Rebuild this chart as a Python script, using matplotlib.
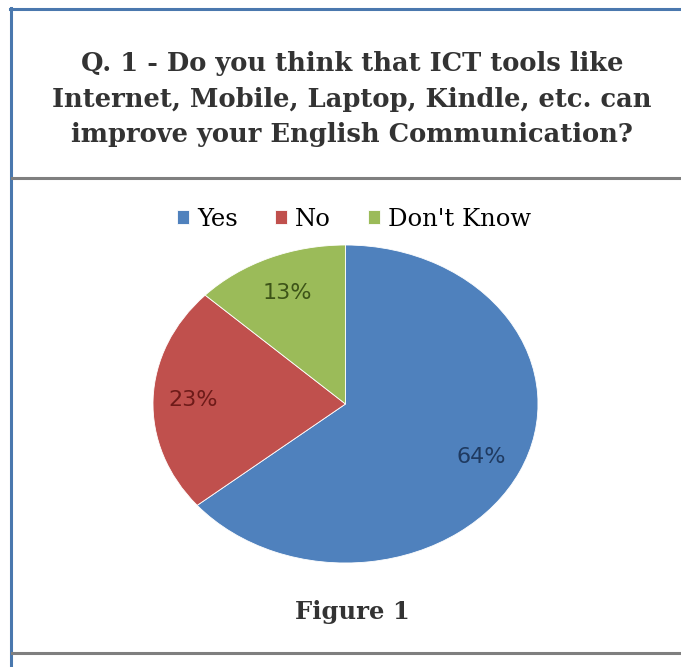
import numpy as np
import matplotlib.pyplot as plt
from matplotlib.lines import Line2D

# data
labels = ["Yes", "No", "Don't Know"]
values = [64, 23, 13]
colors = ["#4F81BD", "#C0504D", "#9BBB59"]
label_colors = ["#1F3A60", "#6E1B19", "#3D5418"]
label_dist = [0.78, 0.79, 0.76]

W, H = 681, 667
fig = plt.figure(figsize=(W / 100, H / 100), dpi=100)
fig.patch.set_facecolor("white")

def fx(px):
    return px / W

def fy(py):
    return 1 - py / H

# frame lines
fig.add_artist(Line2D([fx(10), 1], [fy(9), fy(9)], color="#4A78AE", lw=2.2))
fig.add_artist(Line2D([fx(11), fx(11)], [fy(8), 0], color="#4A78AE", lw=2.2))
fig.add_artist(Line2D([fx(12), 1], [fy(178), fy(178)], color="#7F7F7F", lw=2.2))
fig.add_artist(Line2D([fx(12), 1], [fy(653), fy(653)], color="#7F7F7F", lw=2.2))

# title
title = ("Q. 1 - Do you think that ICT tools like\n"
         "Internet, Mobile, Laptop, Kindle, etc. can\n"
         "improve your English Communication?")
fig.text(fx(352), fy(99), title, ha="center", va="center",
         fontsize=18.5, fontweight="bold", family="DejaVu Serif",
         color="#333333", linespacing=1.53)

# pie, drawn as an ellipse
ax = fig.add_axes([fx(153), fy(563), (538 - 153) / W, (563 - 245) / H])
wedges, _ = ax.pie(values, colors=colors, startangle=90, counterclock=False,
                   wedgeprops=dict(edgecolor="white", linewidth=0.6))
ax.set_aspect("auto")
ax.set_xlim(-1, 1)
ax.set_ylim(-1, 1)
ax.axis("off")

for w, v, c, d in zip(wedges, values, label_colors, label_dist):
    ang = np.deg2rad((w.theta1 + w.theta2) / 2)
    ax.text(d * np.cos(ang), d * np.sin(ang), f"{v}%", ha="center", va="center",
            fontsize=16, color=c, family="DejaVu Sans")

fig.legend(wedges, labels, loc="center", bbox_to_anchor=(fx(354), fy(219)),
           ncol=3, frameon=False, handlelength=0.5, handleheight=0.5,
           handletextpad=0.35, columnspacing=1.5,
           prop=dict(family="DejaVu Serif", size=17.5))

fig.text(fx(352), fy(612), "Figure 1", ha="center", va="center",
         fontsize=17.5, fontweight="bold", family="DejaVu Serif", color="#333333")

fig.savefig("out.png", dpi=100)
